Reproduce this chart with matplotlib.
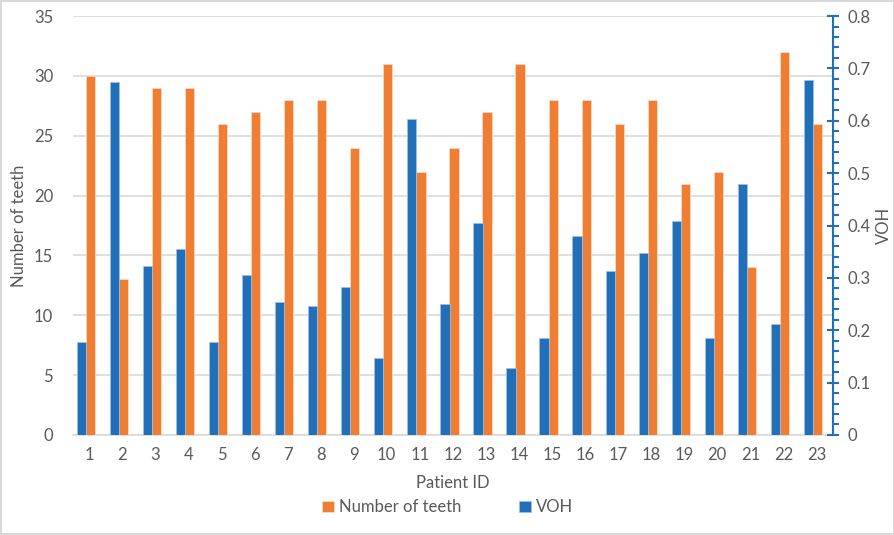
import matplotlib.pyplot as plt
import numpy as np
from matplotlib.ticker import MultipleLocator

patient_ids = [str(i) for i in range(1, 24)]
teeth = [30, 13, 29, 29, 26, 27, 28, 28, 24, 31, 22, 24, 27, 31, 28, 28, 26, 28, 21, 22, 14, 32, 26]
voh = [0.178, 0.674, 0.323, 0.355, 0.178, 0.305, 0.253, 0.246, 0.283, 0.147, 0.603, 0.250,
       0.404, 0.127, 0.185, 0.380, 0.313, 0.347, 0.409, 0.186, 0.480, 0.212, 0.678]

ORANGE = '#F07E32'
BLUE = '#216FB9'
GREY = '#595959'

plt.rcParams['font.family'] = ['Lato', 'DejaVu Sans']

fig = plt.figure(figsize=(8.95, 5.35), dpi=100)
fig.patch.set_edgecolor('#D9D9D9')
fig.patch.set_linewidth(1.5)
ax = fig.add_axes([0.0812, 0.187, 0.8495, 0.783])
ax2 = ax.twinx()

x = np.arange(1, len(patient_ids) + 1)
w = 0.28
b1 = ax.bar(x + 0.035, teeth, width=w, color=ORANGE, edgecolor='#FAD9C2', linewidth=0.6,
            label='Number of teeth', zorder=3)
b2 = ax2.bar(x - 0.24, voh, width=w, color=BLUE, edgecolor='#9DC0E3', linewidth=0.6,
             label='VOH', zorder=3)

ax.set_xlim(0.5, len(patient_ids) + 0.5)
ax.set_ylim(0, 35)
ax2.set_ylim(0, 0.8)
ax.set_xticks(x)
ax.set_xticklabels(patient_ids)
ax.yaxis.set_major_locator(MultipleLocator(5))
ax.grid(axis='y', color='#D9D9D9', linewidth=1.2, zorder=0)
ax.set_axisbelow(True)

for a in (ax, ax2):
    for s in ('top', 'left', 'right'):
        a.spines[s].set_visible(False)
ax.spines['bottom'].set_color('#D9D9D9')
ax.spines['bottom'].set_linewidth(1.2)
ax2.spines['bottom'].set_visible(False)
ax2.spines['right'].set_visible(True)
ax2.spines['right'].set_color(BLUE)
ax2.spines['right'].set_linewidth(1.5)

ax.tick_params(axis='both', length=0, labelsize=12, labelcolor=GREY)
ax.tick_params(axis='x', pad=9)
ax.tick_params(axis='y', pad=14)
ax2.yaxis.set_major_locator(MultipleLocator(0.1))
ax2.yaxis.set_minor_locator(MultipleLocator(0.02))
ax2.tick_params(axis='y', which='major', direction='inout', length=9, width=1.5, color=BLUE,
                labelsize=12, labelcolor=GREY, pad=6)
ax2.tick_params(axis='y', which='minor', direction='out', length=4, width=1.5, color=BLUE)
ax2.set_yticks(np.round(np.arange(0, 0.81, 0.1), 1))
ax2.set_yticklabels(['0'] + [f'{v:.1f}' for v in np.arange(0.1, 0.81, 0.1)])

ax.set_xlabel('Patient ID', fontsize=12, color=GREY, labelpad=8)
ax.set_ylabel('Number of teeth', fontsize=12, color=GREY, labelpad=5)
ax2.set_ylabel('VOH', fontsize=12, color=GREY, labelpad=4)

fig.legend(handles=[b1, b2], loc='center', bbox_to_anchor=(0.5, 0.052), ncol=2, frameon=False,
           fontsize=12, labelcolor=GREY, handlelength=0.7, handleheight=0.7, handletextpad=0.3,
           columnspacing=3.5)

fig.savefig('out.png', dpi=100)
